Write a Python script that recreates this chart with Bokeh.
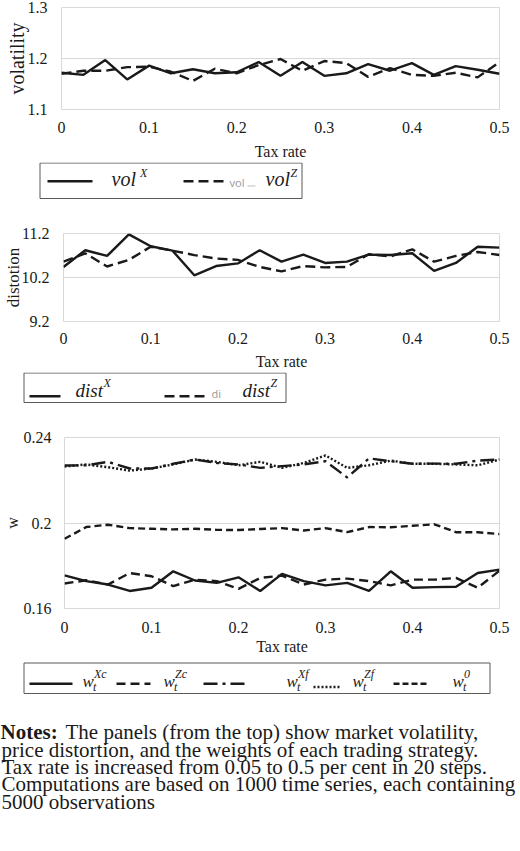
from bokeh.plotting import figure
from bokeh.layouts import column
from bokeh.models import Range1d, FixedTicker, CustomJSTickFormatter
from bokeh.core.properties import value
from bokeh.embed import file_html
from bokeh.resources import INLINE

# ---------------- data ----------------
tax_rate = [0.0, 0.025, 0.05, 0.075, 0.1, 0.125, 0.15, 0.175, 0.2, 0.225, 0.25,
            0.275, 0.3, 0.325, 0.35, 0.375, 0.4, 0.425, 0.45, 0.475, 0.5]

vol_x = [1.172, 1.168, 1.197, 1.159, 1.186, 1.171, 1.179, 1.171, 1.173, 1.193, 1.166,
         1.193, 1.166, 1.171, 1.189, 1.176, 1.191, 1.168, 1.185, 1.178, 1.170]
vol_z = [1.170, 1.176, 1.176, 1.183, 1.184, 1.174, 1.156, 1.180, 1.171, 1.187, 1.199,
         1.176, 1.195, 1.191, 1.164, 1.181, 1.168, 1.166, 1.172, 1.163, 1.193]

dist_x = [10.44, 10.82, 10.69, 11.18, 10.91, 10.81, 10.25, 10.46, 10.52, 10.82, 10.56,
          10.72, 10.53, 10.56, 10.72, 10.71, 10.75, 10.35, 10.53, 10.90, 10.88]
dist_z = [10.56, 10.75, 10.45, 10.60, 10.90, 10.81, 10.71, 10.63, 10.60, 10.44, 10.34,
          10.46, 10.43, 10.44, 10.73, 10.68, 10.84, 10.56, 10.69, 10.78, 10.71]

w_xc = [0.1755, 0.1728, 0.1712, 0.1682, 0.1697, 0.1774, 0.1731, 0.1720, 0.1746, 0.1682, 0.1762,
        0.1728, 0.1708, 0.1720, 0.1682, 0.1774, 0.1697, 0.1700, 0.1702, 0.1766, 0.1782]
w_zc = [0.1717, 0.1732, 0.1712, 0.1766, 0.1751, 0.1705, 0.1735, 0.1728, 0.1692, 0.1743, 0.1754,
        0.1712, 0.1735, 0.1740, 0.1728, 0.1708, 0.1735, 0.1735, 0.1743, 0.1697, 0.1777]
w_xf = [0.2269, 0.2270, 0.2286, 0.2255, 0.2255, 0.2277, 0.2297, 0.2281, 0.2274, 0.2258, 0.2266,
        0.2274, 0.2289, 0.2213, 0.2302, 0.2289, 0.2277, 0.2278, 0.2277, 0.2292, 0.2297]
w_zf = [0.2264, 0.2274, 0.2261, 0.2245, 0.2255, 0.2274, 0.2297, 0.2286, 0.2270, 0.2286, 0.2258,
        0.2281, 0.2316, 0.2258, 0.2270, 0.2292, 0.2277, 0.2277, 0.2274, 0.2270, 0.2297]
w_0 = [0.1926, 0.1981, 0.1992, 0.1976, 0.1973, 0.1970, 0.1973, 0.1968, 0.1967, 0.1972, 0.1976,
       0.1965, 0.1976, 0.1957, 0.1981, 0.1980, 0.1987, 0.1994, 0.1957, 0.1957, 0.1948]

x_ticks = [0, 0.1, 0.2, 0.3, 0.4, 0.5]
x_tick_labels = ["0", "0.1", "0.2", "0.3", "0.4", "0.5"]
vol_ticks = [1.1, 1.2, 1.3]
vol_tick_labels = ["1.1", "1.2", "1.3"]
dist_ticks = [9.2, 10.2, 11.2]
dist_tick_labels = ["9.2", "10.2", "11.2"]
w_ticks = [0.16, 0.2, 0.24]
w_tick_labels = ["0.16", "0.2", "0.24"]

notes_lines = [
    "price distortion, and the weights of each trading strategy.",
    "Tax rate is increased from 0.05 to 0.5 per cent in 20 steps.",
    "Computations are based on 1000 time series, each containing",
    "5000 observations",
]

# ---------------- styling ----------------
SERIF = "Liberation Serif"
INK = "#1a1a1a"
FRAME = "#d9d9d9"
LW = 2.4
W = 520


def label_formatter(ticks, labels):
    return CustomJSTickFormatter(
        args=dict(tv=ticks, tl=labels),
        code="const i = tv.findIndex(t => Math.abs(t - tick) < 1e-9); return i >= 0 ? tl[i] : '';",
    )


def chart(height, top, left, bottom, y_range, y_ticks, y_labels, y_title, y_title_size,
          y_standoff, y_title_standoff, x_standoff, x_title_standoff):
    p = figure(width=W, height=height, x_range=Range1d(0, 0.5), y_range=Range1d(*y_range),
               output_backend="svg", toolbar_location=None,
               min_border_top=top, min_border_left=left, min_border_right=21,
               min_border_bottom=bottom)
    p.frame_align = False
    p.outline_line_color = FRAME
    p.outline_line_width = 1
    p.xgrid.visible = False
    p.ygrid.ticker = FixedTicker(ticks=y_ticks)
    p.ygrid.grid_line_color = FRAME
    p.ygrid.grid_line_width = 1

    p.xaxis.ticker = FixedTicker(ticks=x_ticks)
    p.xaxis.formatter = label_formatter(x_ticks, x_tick_labels)
    p.yaxis.ticker = FixedTicker(ticks=y_ticks)
    p.yaxis.formatter = label_formatter(y_ticks, y_labels)
    for ax in (p.xaxis, p.yaxis):
        ax.axis_line_color = None
        ax.major_tick_line_color = None
        ax.minor_tick_line_color = None
        ax.major_tick_out = 0
        ax.major_tick_in = 0
        ax.major_label_text_font = SERIF
        ax.major_label_text_font_size = "16px"
        ax.major_label_text_color = INK
        ax.axis_label_text_font = SERIF
        ax.axis_label_text_font_style = "normal"
        ax.axis_label_text_color = INK
    p.xaxis.axis_label = "Tax rate"
    p.xaxis.axis_label_text_font_size = "16px"
    p.xaxis.major_label_standoff = x_standoff
    p.xaxis.axis_label_standoff = x_title_standoff
    p.yaxis.axis_label = y_title
    p.yaxis.axis_label_text_font_size = y_title_size
    p.yaxis.major_label_standoff = y_standoff
    p.yaxis.axis_label_standoff = y_title_standoff
    return p


def canvas(height):
    # plain pixel-space canvas (y grows downward) for legends and notes
    p = figure(width=W, height=height, x_range=Range1d(0, W), y_range=Range1d(height, 0),
               output_backend="svg", toolbar_location=None,
               x_axis_location=None, y_axis_location=None,
               min_border_left=0, min_border_right=0, min_border_top=0, min_border_bottom=0)
    p.frame_align = False
    p.grid.visible = False
    p.outline_line_color = None
    return p


def box(p, left, right, top, bottom):
    p.quad(left=[left], right=[right], top=[top], bottom=[bottom],
           fill_color=None, line_color="#595959", line_width=1)


def sample(p, x0, x1, y, dash="solid", width=LW):
    p.line([x0, x1], [y, y], line_color=INK, line_width=width, line_dash=dash)


def txt(p, x, y, s, size, style="italic", font=SERIF, color=INK):
    # y is the wanted baseline; the renderer sets text a little lower, so lift it
    px = float(size.replace("px", ""))
    p.text(x=[x], y=[y - 0.36 * px], text=[s], text_font=value(font), text_font_size=size,
           text_font_style=style, text_color=color, text_baseline="alphabetic",
           text_align="left")


# ---------------- panel 1: volatility ----------------
p1 = chart(162, 7, 61, 53, (1.1, 1.3), vol_ticks, vol_tick_labels, "volatility", "20px",
           14, -3, 12, 7)
p1.line(tax_rate, vol_x, line_color=INK, line_width=LW)
p1.line(tax_rate, vol_z, line_color=INK, line_width=LW, line_dash="10 5")

leg1 = canvas(44)
box(leg1, 39.5, 301.5, 0.5, 36)
sample(leg1, 47, 92, 18.7)
txt(leg1, 111, 24, "vol", "20px")
txt(leg1, 139.5, 14.5, "X", "12px")
sample(leg1, 183, 227, 18.7, "10 5")
txt(leg1, 229, 24, "vol", "11px", "normal", "Noto Sans", "#a0a0a0")
leg1.line([247, 255], [23.5, 23.5], line_color="#dedede", line_width=2)
txt(leg1, 265, 24, "vol", "20px")
txt(leg1, 290, 14.5, "Z", "12px")

# ---------------- panel 2: distortion ----------------
p2 = chart(166, 27, 63, 51, (9.2, 11.2), dist_ticks, dist_tick_labels, "distotion", "17px",
           14, -4, 11, 6)
p2.line(tax_rate, dist_x, line_color=INK, line_width=LW)
p2.line(tax_rate, dist_z, line_color=INK, line_width=LW, line_dash="10 5")

leg2 = canvas(44)
box(leg2, 23.5, 285.5, 0.5, 30)
sample(leg2, 29, 60, 23.7)
txt(leg2, 75, 25.3, "dist", "19px")
txt(leg2, 103, 14.7, "X", "12px")
sample(leg2, 164, 208, 23.7, "10 5")
txt(leg2, 211, 25, "di", "11px", "normal", "Noto Sans", "#a0a0a0")
txt(leg2, 242, 25.3, "dist", "19px")
txt(leg2, 270, 14.7, "Z", "12px")

# ---------------- panel 3: strategy weights ----------------
p3 = chart(243, 21, 63, 51, (0.16, 0.24), w_ticks, w_tick_labels, "w", "16px",
           13, 0, 13, 2)
p3.line(tax_rate, w_xc, line_color=INK, line_width=LW)
p3.line(tax_rate, w_zc, line_color=INK, line_width=LW, line_dash="9 5")
p3.line(tax_rate, w_xf, line_color=INK, line_width=LW, line_dash="14 5 3 5")
p3.line(tax_rate, w_zf, line_color=INK, line_width=LW, line_dash="2 2")
p3.line(tax_rate, w_0, line_color=INK, line_width=LW, line_dash="7 4")

leg3 = canvas(41)
box(leg3, 23.5, 489.5, 3.5, 34)
w_items = [
    (29, 72, 24.3, "solid", 82, "Xc"),
    (116, 150, 24.3, "9 5", 163, "Zc"),
    (203, 245, 24.3, "14 5 3 5", 286, "Xf"),
    (313, 340, 27.5, "2 2", 352, "Zf"),
    (393, 428, 24.3, "6 3", 452, "0"),
]
for x0, x1, y, dash, tx, sup in w_items:
    sample(leg3, x0, x1, y, dash)
    txt(leg3, tx, 28, "w", "17px")
    txt(leg3, tx + 10.5, 31.5, "t", "12px")
    txt(leg3, tx + 11.5, 19, sup, "12px")

# ---------------- notes ----------------
notes = canvas(151)
txt(notes, 0, 39.3, "Notes:", "21px", "bold")
txt(notes, 65, 39.3, "The panels (from the top) show market volatility,", "21px", "normal")
for i, line in enumerate(notes_lines):
    txt(notes, 1, 56.7 + 17.4 * i, line, "21px", "normal")

layout = column(p1, leg1, p2, leg2, p3, leg3, notes, spacing=0)
open("out.html", "w").write(file_html(layout, INLINE))
